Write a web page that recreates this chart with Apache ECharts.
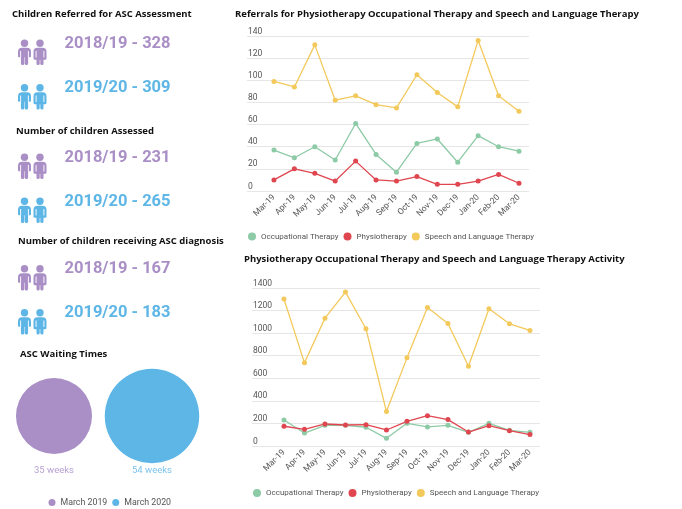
<!DOCTYPE html>
<html>
<head>
<meta charset="utf-8">
<script src="https://cdn.jsdelivr.net/npm/echarts@6/dist/echarts.min.js"></script>
<style>
  html, body { margin: 0; padding: 0; background: #fff; }
  #main { width: 682px; height: 509px; }
</style>
</head>
<body>
<div id="main"></div>
<script>
// months shared by both line charts
const months = ['Mar-19', 'Apr-19', 'May-19', 'Jun-19', 'Jul-19', 'Aug-19', 'Sep-19',
  'Oct-19', 'Nov-19', 'Dec-19', 'Jan-20', 'Feb-20', 'Mar-20'];
const seriesNames = ['Occupational Therapy', 'Physiotherapy', 'Speech and Language Therapy'];

// referrals
const refOT = [37, 30, 40, 28, 61, 33, 17, 43, 47, 26, 50, 40, 36];
const refPhysio = [10, 20, 16, 9, 27, 10, 9, 13, 6, 6, 9, 15, 7];
const refSLT = [99, 94, 132, 82, 86, 78, 75, 105, 89, 76, 136, 86, 72];

// activity
const actOT = [231, 115, 183, 183, 166, 68, 201, 169, 183, 121, 201, 139, 121];
const actPhysio = [175, 148, 195, 186, 189, 142, 219, 269, 234, 124, 180, 136, 101];
const actSLT = [1302, 737, 1133, 1364, 1039, 305, 781, 1228, 1086, 707, 1216, 1083, 1024];

// left panel figures
const years = ['2018/19', '2019/20'];
const referred = [328, 309];
const assessed = [231, 265];
const diagnosed = [167, 183];

// waiting times
const waitLabels = ['March 2019', 'March 2020'];
const waitWeeks = [35, 54];

const colors = ['#8dcaa6', '#e0464f', '#f3c95c'];
const purple = '#a98fc6';
const blue = '#5db6e6';
const font = 'Roboto';
const headFont = '"Open Sans"';

const chart = echarts.init(document.getElementById('main'));

function lineSeries(idx, arrays) {
  return arrays.map((arr, i) => ({
    name: seriesNames[i],
    type: 'line',
    xAxisIndex: idx,
    yAxisIndex: idx,
    data: arr.map((v, j) => [j, v]),
    symbol: 'circle',
    symbolSize: 5,
    color: colors[i],
    lineStyle: { width: 1.3 },
    emphasis: { disabled: true }
  }));
}

function xAxisFor(idx, min, max) {
  return {
    gridIndex: idx,
    type: 'value',
    min: min,
    max: max,
    axisLine: { show: false },
    axisTick: { show: false },
    splitLine: { show: false },
    axisLabel: {
      customValues: months.map((m, i) => i),
      formatter: v => months[v],
      rotate: 45,
      margin: 5,
      fontFamily: font,
      fontSize: 8.5,
      color: '#555'
    }
  };
}

function yAxisFor(idx, max, step) {
  return {
    gridIndex: idx,
    type: 'value',
    min: 0,
    max: max,
    interval: step,
    axisLine: { show: false },
    axisTick: { show: false },
    splitLine: { lineStyle: { color: '#e6e6e6', width: 1 } },
    axisLabel: {
      inside: true,
      align: 'left',
      verticalAlign: 'bottom',
      margin: 1,
      formatter: v => String(v),
      fontFamily: font,
      fontSize: 8.5,
      color: '#555'
    }
  };
}

// two-person icon
function peopleIcon(x, y, color) {
  const white = { stroke: '#fff', lineWidth: 0.9 };
  return {
    type: 'group',
    x: x,
    y: y,
    children: [
      { type: 'circle', shape: { cx: 7, cy: 3.7, r: 3.7 }, style: { fill: color } },
      { type: 'rect', shape: { x: 0.5, y: 8.3, width: 13, height: 9.5, r: [4, 4, 1, 1] }, style: { fill: color } },
      { type: 'rect', shape: { x: 3.4, y: 16, width: 3.4, height: 9.5, r: 1.6 }, style: { fill: color } },
      { type: 'rect', shape: { x: 7.2, y: 16, width: 3.4, height: 9.5, r: 1.6 }, style: { fill: color } },
      { type: 'line', shape: { x1: 3.1, y1: 11.5, x2: 3.1, y2: 18 }, style: white },
      { type: 'line', shape: { x1: 10.9, y1: 11.5, x2: 10.9, y2: 18 }, style: white },
      { type: 'circle', shape: { cx: 22.5, cy: 3.7, r: 3.7 }, style: { fill: color } },
      { type: 'rect', shape: { x: 16, y: 8.3, width: 13, height: 12, r: [4, 4, 1.5, 1.5] }, style: { fill: color } },
      { type: 'rect', shape: { x: 19, y: 18, width: 3.2, height: 7.5, r: 1.5 }, style: { fill: color } },
      { type: 'rect', shape: { x: 22.8, y: 18, width: 3.2, height: 7.5, r: 1.5 }, style: { fill: color } },
      { type: 'line', shape: { x1: 18.6, y1: 11.5, x2: 18.6, y2: 18 }, style: white },
      { type: 'line', shape: { x1: 26.4, y1: 11.5, x2: 26.4, y2: 18 }, style: white }
    ]
  };
}

function heading(text, x, y) {
  return {
    type: 'text', x: x, y: y,
    style: { text: text, fontFamily: headFont, fontWeight: 'bold', fontSize: 9.5, fill: '#111', verticalAlign: 'middle' }
  };
}

function bigNumber(text, y, color) {
  return {
    type: 'text', x: 64.5, y: y,
    style: { text: text, fontFamily: font, fontWeight: 'bold', fontSize: 16.5, fill: color, verticalAlign: 'middle' }
  };
}

const groups = [
  { title: 'Children Referred for ASC Assessment', tx: 12, ty: 14, vals: referred, ny: [43.5, 88], iy: [39.5, 84] },
  { title: 'Number of children Assessed', tx: 16, ty: 131.5, vals: assessed, ny: [157.5, 201.7], iy: [153.5, 197.5] },
  { title: 'Number of children receiving ASC diagnosis', tx: 18, ty: 241.5, vals: diagnosed, ny: [269, 312.7], iy: [265, 309] }
];

const graphics = [];
groups.forEach(g => {
  graphics.push(heading(g.title, g.tx, g.ty));
  g.vals.forEach((v, i) => {
    const c = i === 0 ? purple : blue;
    graphics.push(peopleIcon(17.5, g.iy[i], c));
    graphics.push(bigNumber(years[i] + ' - ' + v, g.ny[i], c));
  });
});
graphics.push(heading('ASC Waiting Times', 20, 354));
graphics.push(heading('Referrals for Physiotherapy Occupational Therapy and Speech and Language Therapy', 235, 14));
graphics.push(heading('Physiotherapy Occupational Therapy and Speech and Language Therapy Activity', 244, 259));

const legendBase = {
  icon: 'circle',
  padding: 0,
  itemWidth: 8,
  itemHeight: 8,
  itemGap: 5,
  textStyle: { fontFamily: font, fontSize: 8, color: '#555' },
  data: seriesNames
};

chart.setOption({
  animation: false,
  graphic: graphics,
  grid: [
    { left: 247, right: 153, top: 36, height: 155 },
    { left: 252, right: 142, top: 288, height: 158 },
    { left: 5, width: 196, top: 370, height: 92 }
  ],
  xAxis: [
    xAxisFor(0, -1.32, 12.49),
    xAxisFor(1, -1.56, 12.49),
    { gridIndex: 2, type: 'category', data: waitLabels, show: false }
  ],
  yAxis: [
    yAxisFor(0, 140, 20),
    yAxisFor(1, 1400, 200),
    { gridIndex: 2, type: 'category', data: ['wait'], show: false }
  ],
  legend: [
    Object.assign({ left: 248, top: 232.5 }, legendBase),
    Object.assign({ left: 253, top: 489 }, legendBase),
    {
      left: 48.5, top: 498, padding: 0, icon: 'circle', itemWidth: 7, itemHeight: 7, itemGap: 5,
      textStyle: { fontFamily: font, fontSize: 8.8, color: '#555' },
      data: waitLabels
    }
  ],
  series: [
    ...lineSeries(0, [refOT, refPhysio, refSLT]),
    ...lineSeries(1, [actOT, actPhysio, actSLT]),
    ...waitLabels.map((name, i) => ({
      name: name,
      type: 'scatter',
      xAxisIndex: 2,
      yAxisIndex: 2,
      color: i === 0 ? purple : blue,
      itemStyle: { opacity: 1 },
      data: [[name, 'wait', waitWeeks[i]]],
      symbolSize: d => Math.sqrt(d[2]) * 12.85,
      emphasis: { disabled: true },
      label: {
        show: true,
        position: 'inside',
        offset: [0, 55],
        formatter: p => p.value[2] + ' weeks',
        fontFamily: font,
        fontSize: 9.5,
        color: i === 0 ? '#b7a0d3' : '#7cc4ec'
      }
    }))
  ]
});
</script>
</body>
</html>
